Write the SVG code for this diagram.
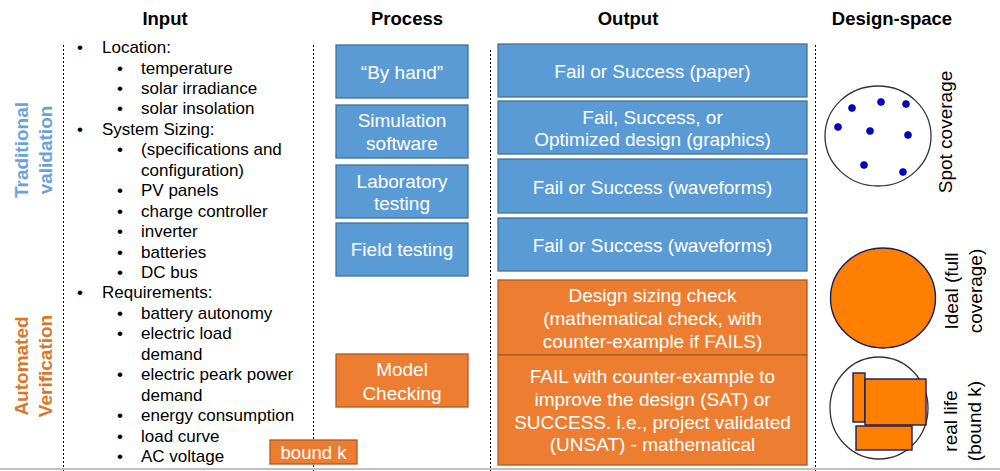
<svg xmlns="http://www.w3.org/2000/svg" width="1000" height="471" viewBox="0 0 1000 471">
<style>
text{font-family:"Liberation Sans",Arial,sans-serif}
.hdr{font-size:18.5px;font-weight:bold;fill:#000;text-anchor:middle}
.side{font-size:19px;font-weight:bold;text-anchor:middle}
.li{font-size:17px;fill:#000}
.bt{font-size:19px;fill:#fff;text-anchor:middle}
.blue{fill:#5b9bd5;stroke:#41719c;stroke-width:1.3}
.org{fill:#ed7d31;stroke:#ae5a21;stroke-width:1.3}
.dash{stroke:#000;stroke-width:1;stroke-dasharray:2 2;fill:none}
.lbl{font-size:19px;fill:#000;text-anchor:middle}
.dot{fill:#0000e0;stroke:#000033;stroke-width:0.6}
.fill{fill:#ff8000;stroke:#1a1a5e;stroke-width:1.4}
</style>
<rect width="1000" height="471" fill="#fff"/>
<g id="connectors">
<line class="dash" x1="63.5" y1="45" x2="63.5" y2="471"/>
<line class="dash" x1="313.5" y1="45" x2="313.5" y2="471"/>
<line class="dash" x1="490.5" y1="50" x2="490.5" y2="471"/>
<line class="dash" x1="815.5" y1="45" x2="815.5" y2="471"/>
<line x1="0" y1="469" x2="1000" y2="469" stroke="#c0c0c0" stroke-width="2"/>
</g>
<g id="headers">
<text class="hdr" x="165" y="25">Input</text>
<text class="hdr" x="407" y="25">Process</text>
<text class="hdr" x="628" y="25">Output</text>
<text class="hdr" x="892" y="25">Design-space</text>
</g>
<g id="traditional-label">
<text class="side" transform="translate(28,150) rotate(-90)" style="fill:#6aa3dc">Traditional</text>
<text class="side" transform="translate(52,150) rotate(-90)" style="fill:#6aa3dc">validation</text>
</g>
<g id="automated-label">
<text class="side" transform="translate(28,366) rotate(-90)" style="fill:#d9782c">Automated</text>
<text class="side" transform="translate(52,366) rotate(-90)" style="fill:#d9782c">Verification</text>
</g>
<g id="input-list">
<text class="li" x="77" y="53">•</text><text class="li" x="102" y="53">Location:</text>
<text class="li" x="117" y="73.5">•</text><text class="li" x="141" y="73.5">temperature</text>
<text class="li" x="117" y="94">•</text><text class="li" x="141" y="94">solar irradiance</text>
<text class="li" x="117" y="114.4">•</text><text class="li" x="141" y="114.4">solar insolation</text>
<text class="li" x="77" y="134.8">•</text><text class="li" x="102" y="134.8">System Sizing:</text>
<text class="li" x="117" y="155.3">•</text><text class="li" x="141" y="155.3">(specifications and</text>
<text class="li" x="141" y="175.7">configuration)</text>
<text class="li" x="117" y="196.2">•</text><text class="li" x="141" y="196.2">PV panels</text>
<text class="li" x="117" y="216.6">•</text><text class="li" x="141" y="216.6">charge controller</text>
<text class="li" x="117" y="237">•</text><text class="li" x="141" y="237">inverter</text>
<text class="li" x="117" y="257.5">•</text><text class="li" x="141" y="257.5">batteries</text>
<text class="li" x="117" y="278">•</text><text class="li" x="141" y="278">DC bus</text>
<text class="li" x="77" y="298.4">•</text><text class="li" x="102" y="298.4">Requirements:</text>
<text class="li" x="117" y="318.8">•</text><text class="li" x="141" y="318.8">battery autonomy</text>
<text class="li" x="117" y="339.3">•</text><text class="li" x="141" y="339.3">electric load</text>
<text class="li" x="141" y="359.7">demand</text>
<text class="li" x="117" y="380.2">•</text><text class="li" x="141" y="380.2">electric peark power</text>
<text class="li" x="141" y="400.6">demand</text>
<text class="li" x="117" y="421">•</text><text class="li" x="141" y="421">energy consumption</text>
<text class="li" x="117" y="441.5">•</text><text class="li" x="141" y="441.5">load curve</text>
<text class="li" x="117" y="462">•</text><text class="li" x="141" y="462">AC voltage</text>
</g>
<g id="bound-k">
<rect class="org" x="270" y="440" width="87" height="24"/>
<text x="313.5" y="459" style="font-size:18.5px;fill:#fff;text-anchor:middle">bound k</text>
</g>
<g id="proc-byhand"><rect class="blue" x="336" y="45" width="132" height="53"/><text class="bt" x="402" y="79">“By hand”</text></g>
<g id="proc-simulation"><rect class="blue" x="336" y="105" width="132" height="53"/><text class="bt" x="402" y="127">Simulation</text><text class="bt" x="402" y="150">software</text></g>
<g id="proc-lab"><rect class="blue" x="336" y="165" width="132" height="53"/><text class="bt" x="402" y="188">Laboratory</text><text class="bt" x="402" y="210">testing</text></g>
<g id="proc-field"><rect class="blue" x="336" y="223" width="132" height="53"/><text class="bt" x="402" y="256">Field testing</text></g>
<g id="proc-model"><rect class="org" x="336" y="354" width="132" height="53"/><text class="bt" x="402" y="376">Model</text><text class="bt" x="402" y="400">Checking</text></g>
<g id="out-paper"><rect class="blue" x="498" y="44" width="309" height="53"/><text class="bt" x="652.5" y="78">Fail or Success (paper)</text></g>
<g id="out-graphics"><rect class="blue" x="498" y="101" width="309" height="53"/><text class="bt" x="652.5" y="124">Fail, Success, or</text><text class="bt" x="652.5" y="146">Optimized design (graphics)</text></g>
<g id="out-wave1"><rect class="blue" x="498" y="159" width="309" height="54"/><text class="bt" x="652.5" y="194">Fail or Success (waveforms)</text></g>
<g id="out-wave2"><rect class="blue" x="498" y="218" width="309" height="53"/><text class="bt" x="652.5" y="252">Fail or Success (waveforms)</text></g>
<g id="out-sizing"><rect class="org" x="498" y="280" width="309" height="75"/><text class="bt" x="652.5" y="302">Design sizing check</text><text class="bt" x="652.5" y="325">(mathematical check, with</text><text class="bt" x="652.5" y="348">counter-example if FAILS)</text></g>
<g id="out-fail"><rect class="org" x="498" y="355" width="309" height="110"/><text class="bt" x="652.5" y="383">FAIL with counter-example to</text><text class="bt" x="652.5" y="406">improve the design (SAT) or</text><text class="bt" x="652.5" y="429">SUCCESS. i.e., project validated</text><text class="bt" x="652.5" y="451">(UNSAT) - mathematical</text></g>
<g id="ds-spot">
<ellipse cx="878" cy="136" rx="53" ry="50" fill="none" stroke="#333" stroke-width="1.3"/>
<circle class="dot" cx="852" cy="108" r="3.5"/>
<circle class="dot" cx="881" cy="102" r="3.5"/>
<circle class="dot" cx="906" cy="104" r="3.5"/>
<circle class="dot" cx="838" cy="127" r="3.5"/>
<circle class="dot" cx="870" cy="131" r="3.5"/>
<circle class="dot" cx="908" cy="135" r="3.5"/>
<circle class="dot" cx="864" cy="165" r="3.5"/>
<circle class="dot" cx="903" cy="172" r="3.5"/>
<text class="lbl" transform="translate(952,132) rotate(-90)">Spot coverage</text>
</g>
<g id="ds-ideal">
<ellipse class="fill" cx="883" cy="298" rx="52.5" ry="50"/>
<text class="lbl" transform="translate(958,291) rotate(-90)">Ideal (full</text>
<text class="lbl" transform="translate(982,291) rotate(-90)">coverage)</text>
</g>
<g id="ds-real">
<ellipse cx="879" cy="408" rx="49" ry="51" fill="none" stroke="#333" stroke-width="1.3"/>
<rect class="fill" x="853" y="373" width="12" height="49"/>
<rect class="fill" x="865" y="379" width="61" height="46"/>
<rect class="fill" x="856" y="426" width="56" height="24"/>
<text class="lbl" transform="translate(957,421) rotate(-90)">real life</text>
<text class="lbl" transform="translate(981,421) rotate(-90)">(bound k)</text>
</g>
</svg>
